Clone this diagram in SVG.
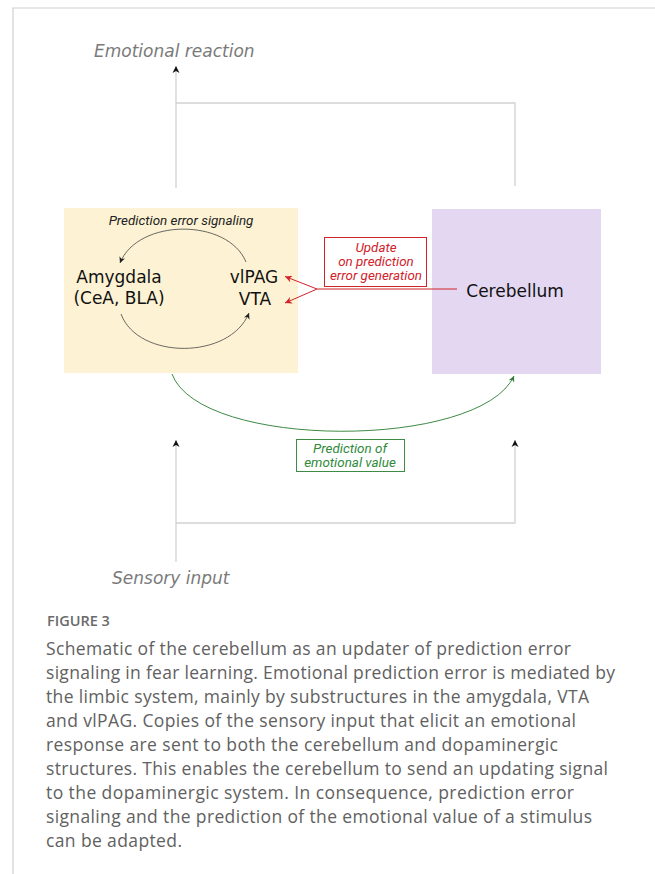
<svg xmlns="http://www.w3.org/2000/svg" width="655" height="874" viewBox="0 0 655 874">
<style>
.frame{stroke:#cfcfcf;stroke-width:1.2;fill:none}
.gray{stroke:#d2d2d2;stroke-width:1.3;fill:none}
.dark{stroke:#444;stroke-width:0.8;fill:none}
.red{stroke:#d0232b;stroke-width:1;fill:none}
.green{stroke:#3d8a45;stroke-width:1;fill:none}
.io{font-family:"DejaVu Sans",sans-serif;font-style:italic;font-size:17px;fill:#7a7a7a}
.node{font-family:"DejaVu Sans",sans-serif;font-size:17px;fill:#111}
.lab{font-family:Roboto,"Liberation Sans",sans-serif;font-style:italic;font-size:13.4px}
.cap{font-family:"Open Sans","Liberation Sans",sans-serif;font-size:17.5px;fill:#616161}
</style>
<defs>
<marker id="ah" viewBox="0 0 10 10" refX="10" refY="5" markerWidth="7" markerHeight="9" markerUnits="userSpaceOnUse" orient="auto"><path d="M0,0 L10,5 L0,10 L3,5 z" fill="#111"/></marker>
<marker id="ahd" viewBox="0 0 10 10" refX="10" refY="5" markerWidth="7" markerHeight="6" markerUnits="userSpaceOnUse" orient="auto"><path d="M0,0 L10,5 L0,10 L3,5 z" fill="#222"/></marker>
<marker id="ahr" viewBox="0 0 10 10" refX="10" refY="5" markerWidth="9" markerHeight="7" markerUnits="userSpaceOnUse" orient="auto"><path d="M0,0 L10,5 L0,10 L3,5 z" fill="#d0232b"/></marker>
<marker id="ahg" viewBox="0 0 10 10" refX="10" refY="5" markerWidth="8" markerHeight="6" markerUnits="userSpaceOnUse" orient="auto"><path d="M0,0 L10,5 L0,10 L3,5 z" fill="#2f7a36"/></marker>
</defs>
<rect width="655" height="874" fill="#fff"/>
<path class="frame" d="M655,8 H13 V874"/>

<g id="emotional-reaction"><text class="io" x="94" y="57">Emotional reaction</text></g>
<g id="sensory-input"><text class="io" x="112" y="584">Sensory input</text></g>

<g id="limbic">
<rect x="64" y="208" width="234" height="165" fill="#fdf3d4"/>
<text class="lab" x="181" y="225" text-anchor="middle" fill="#222">Prediction error signaling</text>
<text class="node" x="119" y="283" text-anchor="middle">Amygdala</text>
<text class="node" x="119" y="304" text-anchor="middle">(CeA, BLA)</text>
<text class="node" x="254" y="283" text-anchor="middle">vlPAG</text>
<text class="node" x="255" y="305" text-anchor="middle">VTA</text>
<path class="dark" d="M246,262 C228,218 138,218 120,263" marker-end="url(#ahd)"/>
<path class="dark" d="M121,314 C138,360 230,360 249,313" marker-end="url(#ahd)"/>
</g>

<g id="cerebellum">
<rect x="432" y="209" width="169" height="165" fill="#e3d7f1"/>
<text class="node" x="515" y="297" text-anchor="middle">Cerebellum</text>
</g>

<g id="update-label">
<rect x="324.5" y="237.5" width="102" height="49" fill="#fff" stroke="#d0232b" stroke-width="1"/>
<text class="lab" fill="#d0232b" text-anchor="middle" x="376" y="252">Update</text>
<text class="lab" fill="#d0232b" text-anchor="middle" x="376" y="266">on prediction</text>
<text class="lab" fill="#d0232b" text-anchor="middle" x="376" y="280">error generation</text>
</g>

<g id="prediction-label">
<rect x="296.5" y="439.5" width="108" height="32" fill="#fff" stroke="#3d8a45" stroke-width="1"/>
<text class="lab" fill="#2f8a3a" text-anchor="middle" x="350" y="453">Prediction of</text>
<text class="lab" fill="#2f8a3a" text-anchor="middle" x="350" y="467">emotional value</text>
</g>

<g id="connectors">
<path class="gray" d="M515,186 V103 H176 V188"/>
<path class="gray" d="M176,103 V66" marker-end="url(#ah)"/>
<path class="gray" d="M176,562 V440" marker-end="url(#ah)"/>
<path class="gray" d="M176,523 H515 V440" marker-end="url(#ah)"/>
<path class="red" d="M457,289 H317"/>
<path class="red" d="M317,289 L285,276.5" marker-end="url(#ahr)"/>
<path class="red" d="M317,289 L285,303" marker-end="url(#ahr)"/>
<path class="green" d="M172,374 C200,450 480,450 514,376" marker-end="url(#ahg)"/>
</g>

<g id="caption">
<text x="47" y="626" font-family="'Open Sans','Liberation Sans',sans-serif" font-size="14.5" font-weight="600" fill="#6a6a6a">FIGURE 3</text>
<text class="cap" x="46" y="655" textLength="525">Schematic of the cerebellum as an updater of prediction error</text>
<text class="cap" x="46" y="679" textLength="569">signaling in fear learning. Emotional prediction error is mediated by</text>
<text class="cap" x="46" y="703" textLength="543">the limbic system, mainly by substructures in the amygdala, VTA</text>
<text class="cap" x="46" y="727" textLength="530">and vlPAG. Copies of the sensory input that elicit an emotional</text>
<text class="cap" x="46" y="751" textLength="512">response are sent to both the cerebellum and dopaminergic</text>
<text class="cap" x="46" y="775" textLength="562">structures. This enables the cerebellum to send an updating signal</text>
<text class="cap" x="46" y="799" textLength="528">to the dopaminergic system. In consequence, prediction error</text>
<text class="cap" x="46" y="823" textLength="546">signaling and the prediction of the emotional value of a stimulus</text>
<text class="cap" x="46" y="847" textLength="136">can be adapted.</text>
</g>
</svg>
